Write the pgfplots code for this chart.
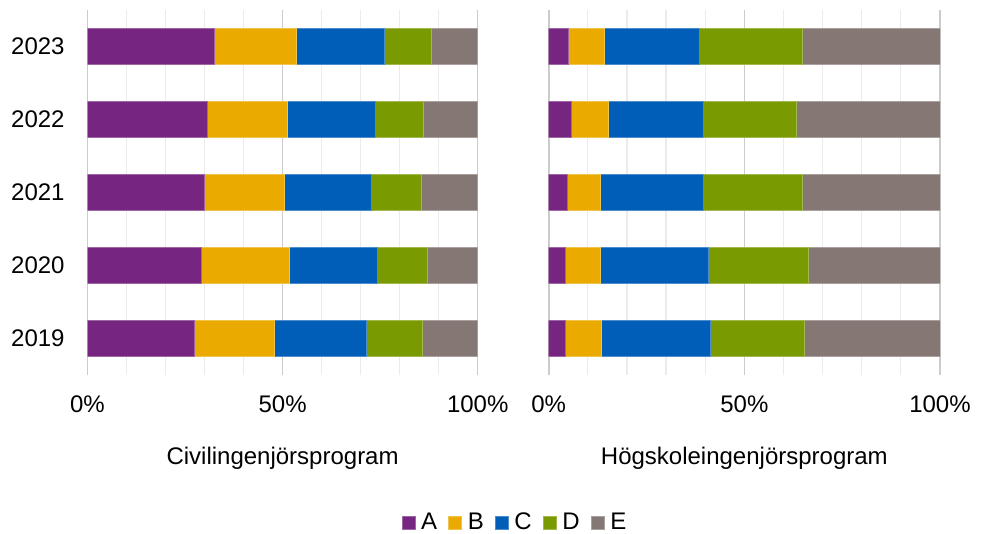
\documentclass[border=0pt]{standalone}
\usepackage{fontspec}
\setmainfont{Liberation Sans}
\usepackage{pgfplots}
\usepackage{pgfplotstable}
\pgfplotsset{compat=1.18}

\definecolor{cA}{HTML}{762580}
\definecolor{cB}{HTML}{EAAA00}
\definecolor{cC}{HTML}{005EB8}
\definecolor{cD}{HTML}{7A9A01}
\definecolor{cE}{HTML}{857874}

\newcommand{\chartfont}{\fontsize{12}{14}\selectfont}

\pgfplotsset{
  panel/.style={
    xbar stacked,
    scale only axis,
    height=182.5pt,
    xmin=0, xmax=100, ymin=-0.5, ymax=4.5,
    bar width=18pt,
    xtick={0,50,100}, xticklabels={0\%,50\%,100\%},
    minor xtick={10,20,30,40,60,70,80,90},
    xmajorgrids, xminorgrids,
    major grid style={draw=black!20, line width=0.8pt},
    minor grid style={draw=black!8, line width=0.6pt},
    axis line style={draw=none},
    major tick style={draw=none}, minor tick style={draw=none},
    tick label style={font=\chartfont, inner sep=0pt},
    xticklabel style={yshift=-10pt},
    yticklabel style={xshift=-11.25pt},
    xlabel style={font=\chartfont, at={(axis description cs:0.5,0)},
                  anchor=north, yshift=-36pt, inner sep=0pt},
    legend image code/.code={\fill[##1] (0pt,-3.25pt) rectangle (6.5pt,3.25pt);},
  },
  sA/.style={fill=cA, draw=cA!70!white, line width=0.3pt},
  sB/.style={fill=cB, draw=cB!70!white, line width=0.3pt},
  sC/.style={fill=cC, draw=cC!70!white, line width=0.3pt},
  sD/.style={fill=cD, draw=cD!70!white, line width=0.3pt},
  sE/.style={fill=cE, draw=cE!70!white, line width=0.3pt},
}

% Shares per year (0 = 2019 ... 4 = 2023), in percent
\pgfplotstableread{
y  A     B     C     D     E
0  27.3  20.5  23.7  14.3  14.2
1  29.1  22.5  22.6  13.0  12.8
2  30.0  20.5  22.3  12.8  14.4
3  30.6  20.6  22.5  12.4  13.9
4  32.5  21.0  22.6  11.9  12.0
}\civil

\pgfplotstableread{
y  A     B     C     D     E
0  4.2   9.2   27.8  24.1  34.7
1  4.2   9.0   27.6  25.6  33.6
2  4.7   8.6   26.1  25.3  35.3
3  5.8   9.4   24.3  23.7  36.8
4  4.9   9.2   24.4  26.3  35.2
}\hogsk

\begin{document}
\begin{tikzpicture}
\path[use as bounding box] (0,0) rectangle (491pt,267pt);

\begin{axis}[panel, at={(43.75pt,79.5pt)}, anchor=south west,
  width=195.1pt,
  ytick={0,1,2,3,4}, yticklabels={2019,2020,2021,2022,2023},
  xlabel={Civilingenjörsprogram}]
  \addplot[sA] table[x=A, y=y] {\civil};
  \addplot[sB] table[x=B, y=y] {\civil};
  \addplot[sC] table[x=C, y=y] {\civil};
  \addplot[sD] table[x=D, y=y] {\civil};
  \addplot[sE] table[x=E, y=y] {\civil};
\end{axis}

\begin{axis}[panel, at={(274.35pt,79.5pt)}, anchor=south west,
  width=195.65pt,
  ytick=\empty,
  xlabel={Högskoleingenjörsprogram},
  legend columns=5,
  legend style={at={(axis description cs:-0.0887,-0.405)}, anchor=center,
    draw=none, fill=none, font=\chartfont,
    nodes={inner sep=0pt},
    /tikz/every odd column/.append style={column sep=3pt},
    /tikz/every even column/.append style={column sep=5.5pt}}]
  \addplot[sA] table[x=A, y=y] {\hogsk};
  \addplot[sB] table[x=B, y=y] {\hogsk};
  \addplot[sC] table[x=C, y=y] {\hogsk};
  \addplot[sD] table[x=D, y=y] {\hogsk};
  \addplot[sE] table[x=E, y=y] {\hogsk};
  \legend{A,B,C,D,E}
\end{axis}
\end{tikzpicture}
\end{document}
